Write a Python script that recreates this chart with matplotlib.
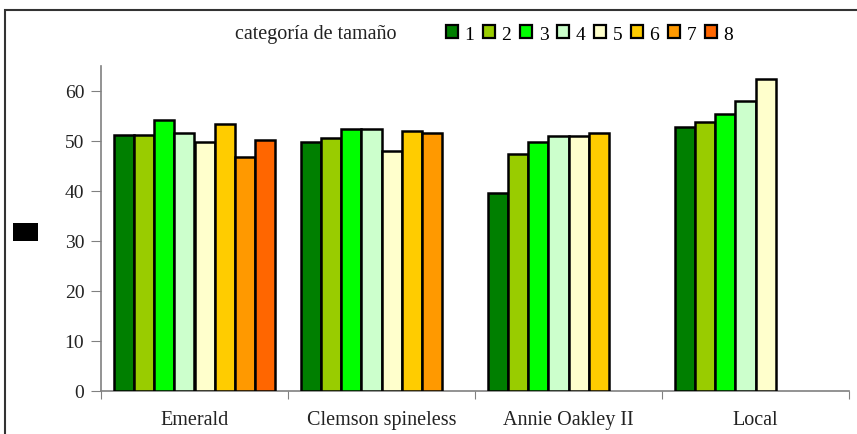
import matplotlib
matplotlib.use("Agg")
import matplotlib.pyplot as plt
from matplotlib.patches import Rectangle, Patch

categories = ["Emerald", "Clemson spineless", "Annie Oakley II", "Local"]
series_labels = ["1", "2", "3", "4", "5", "6", "7", "8"]
colors = ["#007F00", "#99CC00", "#00FF00", "#CCFFCC", "#FFFFCC", "#FFCC00", "#FF9900", "#FF6600"]

# values per size category (series) for each variety; None = no data
values = {
    "1": [51.2, 49.8, 39.7, 52.9],
    "2": [51.2, 50.7, 47.5, 53.8],
    "3": [54.2, 52.4, 49.8, 55.5],
    "4": [51.6, 52.4, 51.1, 58.1],
    "5": [49.9, 48.0, 51.1, 62.5],
    "6": [53.4, 52.0, 51.6, None],
    "7": [46.8, 51.6, None, None],
    "8": [50.3, None, None, None],
}
y_ticks = [0, 10, 20, 30, 40, 50, 60]

plt.rcParams["font.family"] = ["Liberation Serif", "DejaVu Serif"]

W, H = 857, 435
fig = plt.figure(figsize=(W / 100, H / 100), dpi=100)

# outer chart frame (runs off the right and bottom edges)
fig.patches.append(Rectangle((5 / W, -0.1), 1.2, 1.1 - 11 / H, transform=fig.transFigure,
                             fill=False, edgecolor="#333333", linewidth=1.5))

ax = fig.add_axes([101 / W, 43 / H, (849 - 101) / W, (392 - 67) / H])

n = len(series_labels)
w = 0.107
start = (1 - n * w) / 2
for j, s in enumerate(series_labels):
    for i, v in enumerate(values[s]):
        if v is None:
            continue
        ax.bar(i + start + j * w, v, width=w, align="edge", color=colors[j],
               edgecolor="black", linewidth=1.8, zorder=3)

ax.set_xlim(0, len(categories))
ax.set_ylim(0, 65)
ax.set_yticks(y_ticks)
ax.set_yticklabels([str(t) for t in y_ticks], fontsize=14, color="#222222")
ax.set_xticks(range(len(categories) + 1))
ax.set_xticklabels([])
ax.set_xticks([i + 0.5 for i in range(len(categories))], minor=True)
ax.set_xticklabels(categories, minor=True, fontsize=14.5, color="#222222")
ax.tick_params(axis="x", which="minor", length=0, pad=14)
ax.tick_params(axis="x", which="major", length=6, direction="out", color="#808080")
ax.tick_params(axis="y", length=7, direction="out", color="#808080", pad=5)
for side in ["top", "right"]:
    ax.spines[side].set_visible(False)
for side in ["left", "bottom"]:
    ax.spines[side].set_color("#808080")
    ax.spines[side].set_linewidth(1.2)

# redacted y-axis title block
fig.patches.append(Rectangle((13 / W, 1 - 242 / H), 25 / W, 18 / H,
                             transform=fig.transFigure, facecolor="black", edgecolor="none"))

fig.text(235 / W, 1 - 35 / H, "categoría de tamaño", fontsize=14.5, va="center", ha="left",
         color="#222222")
handles = [Patch(facecolor=c, edgecolor="black", linewidth=1.6) for c in colors]
fig.legend(handles, series_labels, loc="center left", bbox_to_anchor=(446 / W, 1 - 35 / H),
           ncol=n, frameon=False, fontsize=14, handlelength=0.6, handleheight=0.6,
           handletextpad=0.35, columnspacing=0.45, borderpad=0, borderaxespad=0)

fig.savefig("out.png", dpi=100)
